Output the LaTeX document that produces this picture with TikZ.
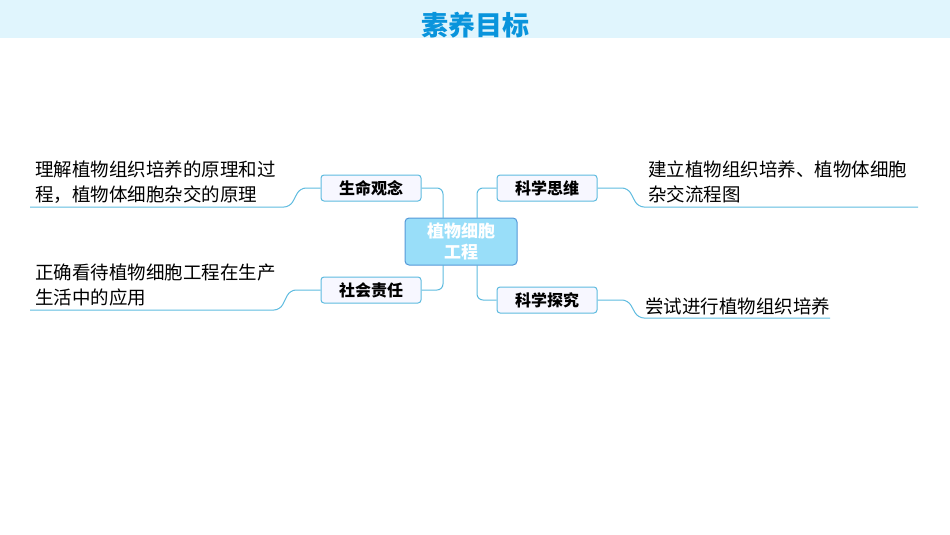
\documentclass[tikz,border=0pt]{standalone}
\usepackage{fontspec}
\setmainfont{Noto Sans CJK SC}
\begin{document}
\begin{tikzpicture}[x=1pt,y=-1pt,
 lnk/.style={draw=cyan!70!teal!70, line width=1pt, rounded corners=6pt},
 branch/.style={draw=cyan!70!teal!70, line width=1pt, fill=blue!3, rounded corners=3pt, minimum width=100pt, minimum height=26pt, font=\bfseries\fontsize{16}{18}\selectfont, inner sep=0pt},
 desc/.style={anchor=west, align=left, font=\fontsize{18.5}{25}\selectfont, inner sep=0pt}]
\useasboundingbox (0,0) rectangle (950,535);
\fill[cyan!12] (0,0) rectangle (950,38);
\node (title) at (475,25) {\textcolor{cyan!80!blue}{\bfseries\fontsize{27}{29}\selectfont 素养目标}};
\node[draw=cyan!60!blue!70, fill=cyan!40, line width=1pt, rounded corners=4pt, minimum width=112pt, minimum height=47pt, align=center, text=white, font=\bfseries\fontsize{17}{21}\selectfont, inner sep=0pt] (c) at (461,241.5) {植物细胞\\工程};
\node[branch] (a) at (371,188) {生命观念};
\node[branch] (b) at (371,290) {社会责任};
\node[branch] (d) at (547,188) {科学思维};
\node[branch] (e) at (547,300) {科学探究};
\coordinate (c1) at (443,218); \coordinate (c2) at (477,218);
\coordinate (c3) at (443,265); \coordinate (c4) at (477,265);
\draw[lnk] (c1) |- (a.east);
\draw[lnk] (c2) |- (d.west);
\draw[lnk] (c3) |- (b.east);
\draw[lnk] (c4) |- (e.west);
\coordinate (la) at (30,207); \coordinate (lb) at (30,310);
\coordinate (rd) at (918,207); \coordinate (re) at (830,318);
\draw[lnk] (a.west) -- (300,188) -- (290,207) -- (la);
\draw[lnk] (b.west) -- (290,290) -- (280,310) -- (lb);
\draw[lnk] (d.east) -- (628,188) -- (638,207) -- (rd);
\draw[lnk] (e.east) -- (628,300) -- (638,318) -- (re);
\node[desc] (ta) at (35,182) {理解植物组织培养的原理和过\\程，植物体细胞杂交的原理};
\node[desc] (tb) at (35,285) {正确看待植物细胞工程在生产\\生活中的应用};
\node[desc] (td) at (648,182) {建立植物组织培养、植物体细胞\\杂交流程图};
\node[desc] (te) at (645,306) {尝试进行植物组织培养};
\end{tikzpicture}
\end{document}
